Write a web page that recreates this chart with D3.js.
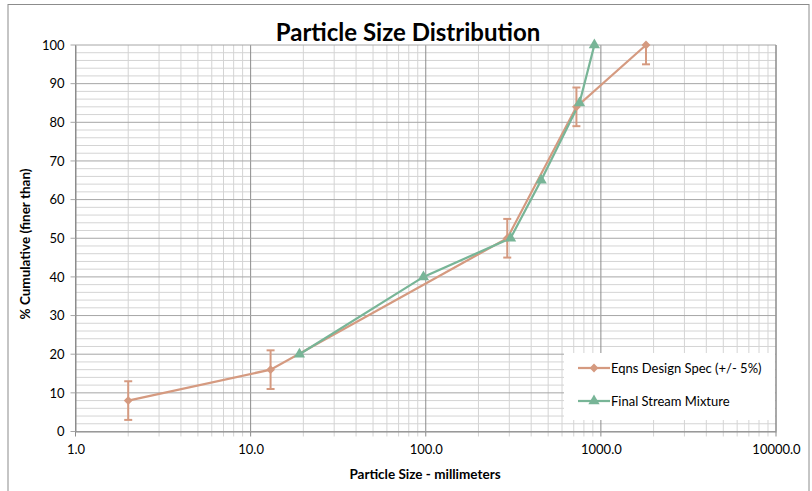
<!DOCTYPE html>
<html>
<head>
<meta charset="utf-8">
<script src="https://cdn.jsdelivr.net/npm/d3@7"></script>
<style>
  body { margin: 0; background: #fff; }
  text { font-family: Lato, "Open Sans", sans-serif; fill: #000; }
</style>
</head>
<body>
<div id="chart"></div>
<script>
// series data
const specSize = [2, 13, 292, 725, 1810];
const specPct = [8, 16, 50, 84, 100];
const specErr = 5;
const mixSize = [19, 97, 305, 456, 755, 918];
const mixPct = [20, 40, 50, 65, 85, 100];
const xTicks = [1, 10, 100, 1000, 10000];
const yTicks = [0, 10, 20, 30, 40, 50, 60, 70, 80, 90, 100];
const seriesNames = ["Eqns Design Spec (+/- 5%)", "Final Stream Mixture"];

(function psd() {
  const width = 812, height = 491,
    margin = { top: 45, right: 36, bottom: 59.5, left: 75.5 };

  const orange = "#d59a80", green = "#78b597";

  const svg = d3.select("#chart")
    .append("svg")
    .attr("width", width)
    .attr("height", height);

  // chart frame
  svg.append("rect")
    .attr("x", 8).attr("y", 4.5)
    .attr("width", 801).attr("height", 490)
    .attr("fill", "white")
    .attr("stroke", "#8c8c8c");

  const x = d3.scaleLog([1, 10000], [margin.left, width - margin.right]);
  const y = d3.scaleLinear([0, 100], [height - margin.bottom, margin.top]);

  // minor grid
  const minorX = [];
  for (let d = 1; d < 10000; d *= 10)
    for (let k = 2; k <= 9; k++) minorX.push(d * k);
  const minorY = d3.range(0, 101, 2).filter(v => v % 10 !== 0);

  const grid = svg.append("g");
  grid.selectAll(".mx")
    .data(minorX)
    .join("line")
    .attr("x1", d => x(d)).attr("x2", d => x(d))
    .attr("y1", y(100)).attr("y2", y(0) + 5)
    .attr("stroke", "#d4d4d4");
  grid.selectAll(".my")
    .data(minorY)
    .join("line")
    .attr("x1", x(1)).attr("x2", x(10000))
    .attr("y1", d => y(d)).attr("y2", d => y(d))
    .attr("stroke", "#d4d4d4");
  grid.selectAll(".MX")
    .data(xTicks)
    .join("line")
    .attr("x1", d => x(d)).attr("x2", d => x(d))
    .attr("y1", y(100)).attr("y2", y(0) + 5)
    .attr("stroke", "#8c8c8c");
  grid.selectAll(".MY")
    .data(yTicks)
    .join("line")
    .attr("x1", x(1) - 5).attr("x2", x(10000))
    .attr("y1", d => y(d)).attr("y2", d => y(d))
    .attr("stroke", "#a6a6a6");

  // axes (labels only, lines drawn above)
  svg.append("g")
    .attr("transform", `translate(0,${y(0)})`)
    .call(d3.axisBottom(x).tickValues(xTicks).tickFormat(d3.format(".1f")).tickSize(0).tickPadding(13))
    .call(g => g.select(".domain").attr("stroke", "#8c8c8c"))
    .call(g => g.selectAll("text").style("font-size", "13px").style("font-family", "Lato, sans-serif"));

  svg.append("g")
    .attr("transform", `translate(${x(1)},0)`)
    .call(d3.axisLeft(y).tickValues(yTicks).tickSize(0).tickPadding(11))
    .call(g => g.select(".domain").attr("stroke", "#8c8c8c"))
    .call(g => g.selectAll("text").style("font-size", "13px").style("font-family", "Lato, sans-serif"));

  svg.append("line")
    .attr("x1", x(10000)).attr("x2", x(10000))
    .attr("y1", y(100)).attr("y2", y(0))
    .attr("stroke", "#8c8c8c");

  // titles
  svg.append("text")
    .attr("x", 408).attr("y", 41)
    .attr("text-anchor", "middle")
    .style("font-size", "24px").style("font-weight", "bold")
    .text("Particle Size Distribution");

  svg.append("text")
    .attr("x", 425).attr("y", 479)
    .attr("text-anchor", "middle")
    .style("font-size", "13.5px").style("font-weight", "bold")
    .text("Particle Size - millimeters");

  svg.append("text")
    .attr("transform", `translate(30,244) rotate(-90)`)
    .attr("text-anchor", "middle")
    .style("font-size", "13.5px").style("font-weight", "bold")
    .text("% Cumulative (finer than)");

  const line = d3.line().x(d => x(d[0])).y(d => y(d[1]));
  const spec = specSize.map((s, i) => [s, specPct[i]]);
  const mix = mixSize.map((s, i) => [s, mixPct[i]]);

  // error bars, clipped to the plot
  const errs = svg.append("g").attr("stroke", orange).attr("stroke-width", 2);
  spec.forEach(d => {
    const lo = y(Math.max(0, d[1] - specErr)), hi = y(Math.min(100, d[1] + specErr));
    errs.append("line").attr("x1", x(d[0])).attr("x2", x(d[0])).attr("y1", lo).attr("y2", hi);
    errs.append("line").attr("x1", x(d[0]) - 4).attr("x2", x(d[0]) + 4).attr("y1", lo).attr("y2", lo);
    if (d[1] + specErr <= 100)
      errs.append("line").attr("x1", x(d[0]) - 4).attr("x2", x(d[0]) + 4).attr("y1", hi).attr("y2", hi);
  });

  svg.append("path")
    .datum(spec)
    .attr("d", line)
    .attr("fill", "none")
    .attr("stroke", orange)
    .attr("stroke-width", 2.25);

  svg.append("path")
    .datum(mix)
    .attr("d", line)
    .attr("fill", "none")
    .attr("stroke", green)
    .attr("stroke-width", 2.25);

  const diamond = d3.symbol(d3.symbolDiamond2, 50);
  const tri = d3.symbol(d3.symbolTriangle, 55);

  svg.selectAll(".spec-pt")
    .data(spec)
    .join("path")
    .attr("transform", d => `translate(${x(d[0])},${y(d[1])})`)
    .attr("d", diamond)
    .attr("fill", orange);

  svg.selectAll(".mix-pt")
    .data(mix)
    .join("path")
    .attr("transform", d => `translate(${x(d[0])},${y(d[1])})`)
    .attr("d", tri)
    .attr("fill", green);

  // legend
  const lg = svg.append("g");
  lg.append("rect")
    .attr("x", 564).attr("y", 353)
    .attr("width", 211).attr("height", 67)
    .attr("fill", "white");

  const items = [
    { name: seriesNames[0], color: orange, sym: diamond },
    { name: seriesNames[1], color: green, sym: tri }
  ];
  items.forEach((it, i) => {
    const yy = 368 + i * 33;
    lg.append("line")
      .attr("x1", 578).attr("x2", 610)
      .attr("y1", yy).attr("y2", yy)
      .attr("stroke", it.color).attr("stroke-width", 2.25);
    lg.append("path")
      .attr("transform", `translate(594,${yy})`)
      .attr("d", it.sym)
      .attr("fill", it.color);
    lg.append("text")
      .attr("x", 611).attr("y", yy + 5)
      .style("font-size", "13px")
      .text(it.name);
  });
})();
</script>
</body>
</html>
